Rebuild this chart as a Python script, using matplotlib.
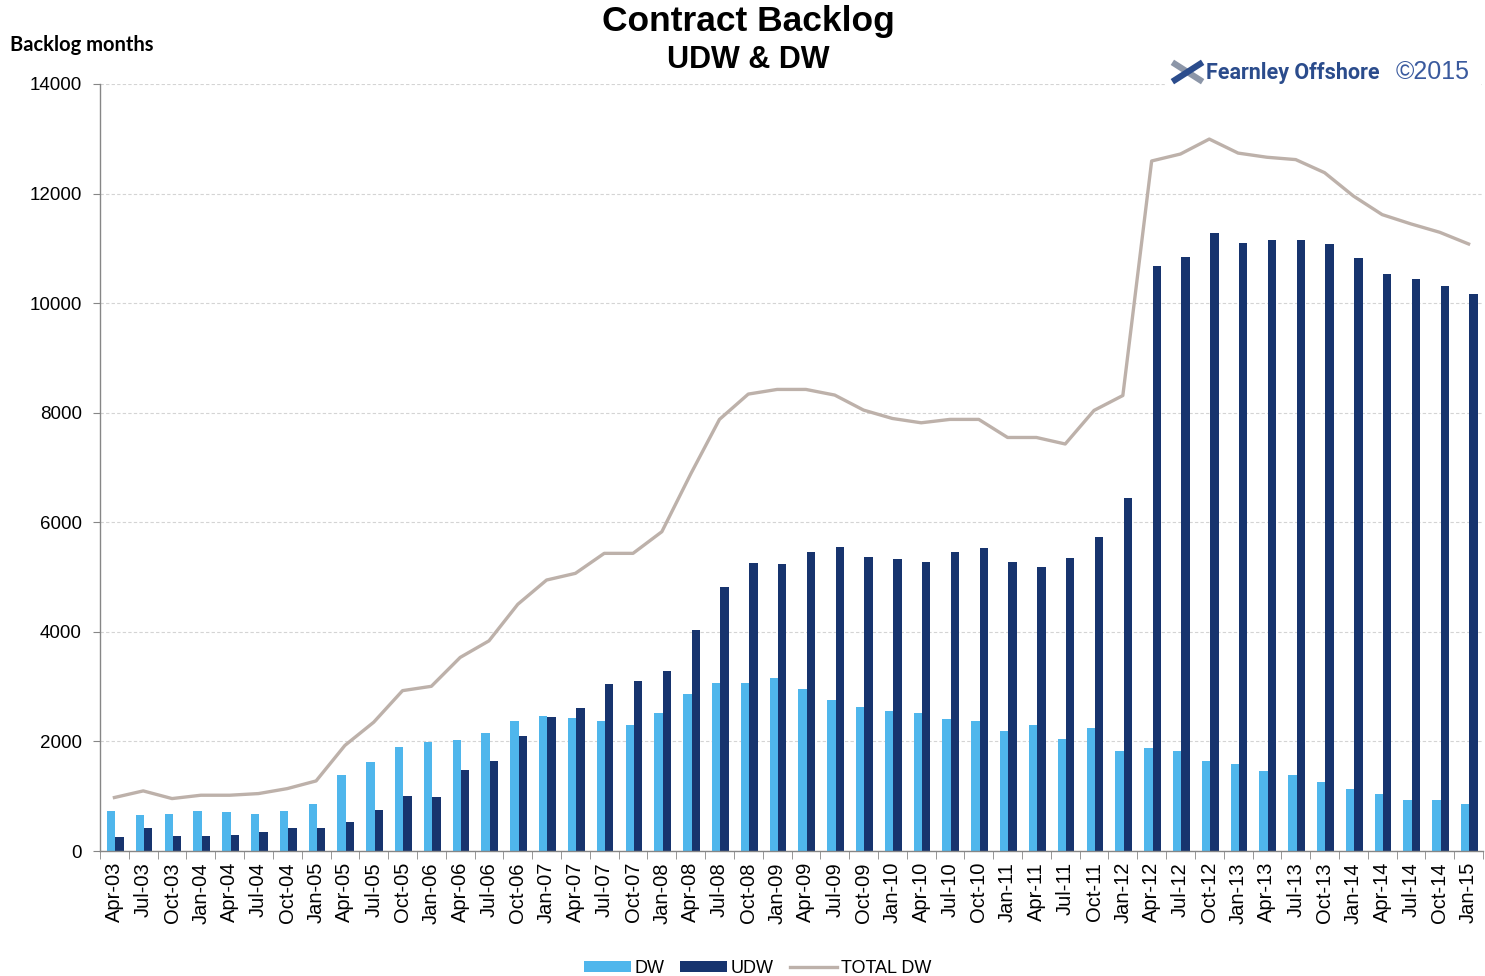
import numpy as np
import matplotlib
matplotlib.use("Agg")
import matplotlib.pyplot as plt
from matplotlib.lines import Line2D

plt.rcParams['font.family'] = ['Liberation Sans', 'DejaVu Sans']

# Quarterly contract backlog (rig months)
quarters = ['Apr-03', 'Jul-03', 'Oct-03',
            'Jan-04', 'Apr-04', 'Jul-04', 'Oct-04',
            'Jan-05', 'Apr-05', 'Jul-05', 'Oct-05',
            'Jan-06', 'Apr-06', 'Jul-06', 'Oct-06',
            'Jan-07', 'Apr-07', 'Jul-07', 'Oct-07',
            'Jan-08', 'Apr-08', 'Jul-08', 'Oct-08',
            'Jan-09', 'Apr-09', 'Jul-09', 'Oct-09',
            'Jan-10', 'Apr-10', 'Jul-10', 'Oct-10',
            'Jan-11', 'Apr-11', 'Jul-11', 'Oct-11',
            'Jan-12', 'Apr-12', 'Jul-12', 'Oct-12',
            'Jan-13', 'Apr-13', 'Jul-13', 'Oct-13',
            'Jan-14', 'Apr-14', 'Jul-14', 'Oct-14',
            'Jan-15']

dw = [727, 661, 679, 727, 703, 679, 727, 854, 1382, 1618, 1903, 1988,
      2030, 2157, 2382, 2466, 2433, 2372, 2299, 2518, 2871, 3072, 3072, 3151,
      2956, 2761, 2634, 2549, 2524, 2415, 2378, 2187, 2298, 2042, 2238, 1830,
      1872, 1830, 1634, 1591, 1464, 1396, 1251, 1123, 1047, 936, 936, 851]

udw = [248, 424, 273, 273, 291, 351, 424, 424, 533, 745, 1006, 988,
       1485, 1642, 2097, 2451, 2604, 3048, 3109, 3285, 4033, 4818, 5262, 5238,
       5451, 5542, 5366, 5323, 5280, 5451, 5524, 5276, 5191, 5344, 5736, 6442,
       10672, 10842, 11276, 11106, 11148, 11148, 11080, 10825, 10535, 10442, 10314, 10169]

total_dw = [976, 1097, 957, 1018, 1018, 1048, 1139, 1279, 1927, 2351, 2927, 3006,
            3533, 3836, 4503, 4946, 5068, 5433, 5433, 5828, 6880, 7878, 8340, 8425,
            8425, 8322, 8048, 7895, 7816, 7878, 7878, 7548, 7548, 7429, 8042, 8314,
            12595, 12722, 12995, 12739, 12663, 12620, 12382, 11956, 11616, 11446, 11293, 11080]

c_dw = '#4FB6EC'
c_udw = '#17346E'
c_tot = '#BDB1AA'

fig = plt.figure(figsize=(14.85, 9.76), dpi=100)
ax = fig.add_axes([100 / 1485, 1 - 851 / 976, 1383 / 1485, 767 / 976])

x = np.arange(len(quarters))
w = 0.29
b_dw = ax.bar(x - w / 2 + 0.03, dw, width=w, color=c_dw, label='DW', zorder=2)
b_udw = ax.bar(x + w / 2 + 0.03, udw, width=w, color=c_udw, label='UDW', zorder=2)
l_tot, = ax.plot(x, total_dw, color=c_tot, lw=2.4, label='TOTAL DW', zorder=3)

ax.set_xlim(-0.5, len(quarters) - 0.5)
ax.set_ylim(0, 14000)
ax.set_yticks(range(0, 14001, 2000))
ax.tick_params(axis='y', labelsize=13.5, length=5, color='#868686', pad=8)

ax.set_xticks(x)
ax.set_xticklabels(quarters, rotation=90, fontsize=14.5)
ax.set_xticks(np.arange(-0.5, len(quarters), 1), minor=True)
ax.tick_params(axis='x', which='major', length=0, pad=8)
ax.tick_params(axis='x', which='minor', length=6, color='#868686')

ax.grid(axis='y', color='#D4D4D4', linestyle=(0, (3, 2)), lw=0.8, zorder=0)
for side in ['top', 'right']:
    ax.spines[side].set_visible(False)
for side in ['left', 'bottom']:
    ax.spines[side].set_color('#868686')
    ax.spines[side].set_linewidth(1.0)

# Titles
fig.text(0.504, 1 - 22 / 976, 'Contract Backlog', ha='center', va='center',
         fontsize=25.5, fontweight='bold')
fig.text(0.504, 1 - 60 / 976, 'UDW & DW', ha='center', va='center',
         fontsize=22, fontweight='bold')
fig.text(10 / 1485, 1 - 45 / 976, 'Backlog months', ha='left', va='center',
         fontsize=14.5, fontweight='bold', family=['Lato', 'DejaVu Sans'])

# Logo
fig.patches.append(plt.Rectangle((1165 / 1485, 1 - 92 / 976), 315 / 1485, 38 / 976,
                                 transform=fig.transFigure, color='white', zorder=5))
fig.lines.append(Line2D([1175 / 1485, 1200 / 1485], [1 - 64 / 976, 1 - 80 / 976],
                        transform=fig.transFigure, color='#8C96A8', lw=4.5, zorder=6))
fig.lines.append(Line2D([1175 / 1485, 1200 / 1485], [1 - 80 / 976, 1 - 64 / 976],
                        transform=fig.transFigure, color='#2B4C8C', lw=4.5, zorder=6))
fig.text(1206 / 1485, 1 - 73 / 976, 'Fearnley Offshore', ha='left', va='center',
         fontsize=15.5, fontweight='bold',
         family=['Roboto', 'DejaVu Sans'], color='#2B4C8C', zorder=7)
fig.text(1470 / 1485, 1 - 72 / 976, '\u00a92015', ha='right', va='center',
         fontsize=18, color='#3A5A9E', zorder=7)

# Legend
fig.legend(handles=[b_dw, b_udw, l_tot], loc='lower center',
           bbox_to_anchor=(0.51, -0.018), ncol=3,
           frameon=False, fontsize=13, handlelength=2.6, handleheight=0.55,
           handletextpad=0.2, columnspacing=0.9)

fig.savefig('out.png', dpi=100)
